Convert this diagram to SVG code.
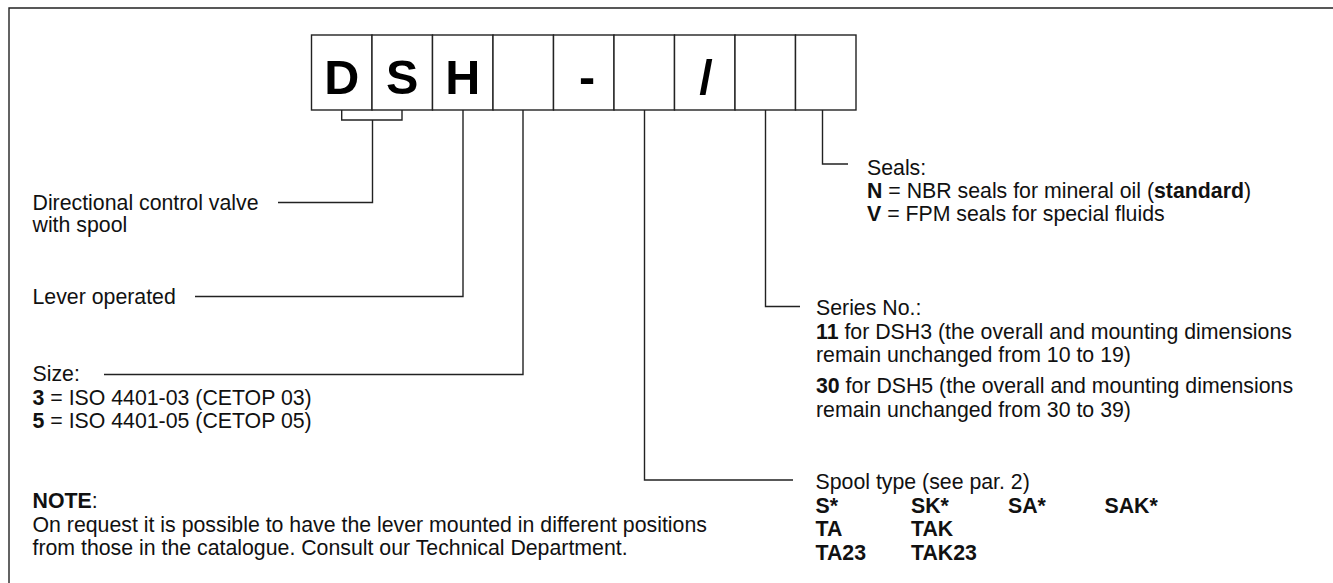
<svg xmlns="http://www.w3.org/2000/svg" width="1333" height="583" viewBox="0 0 1333 583">
<style>
.t{font-family:"Liberation Sans",Arial,sans-serif;font-size:21.3px;fill:#111}
.b{font-weight:bold}
.big{font-family:"Liberation Sans",Arial,sans-serif;font-size:48.5px;font-weight:bold;fill:#000;text-anchor:middle}
.box{fill:#fff;stroke:#222;stroke-width:1.4}
.ln{fill:none;stroke:#222;stroke-width:1.4}
</style>
<rect x="0" y="0" width="1333" height="583" fill="#fff"/>
<path class="ln" d="M9,583 V8 H1333" stroke-width="1.6"/>
<g id="code">
<rect class="box" x="311.5" y="35" width="60.5" height="75"/>
<rect class="box" x="372" y="35" width="60.5" height="75"/>
<rect class="box" x="432.5" y="35" width="60.5" height="75"/>
<rect class="box" x="493" y="35" width="60.5" height="75"/>
<rect class="box" x="553.5" y="35" width="60.5" height="75"/>
<rect class="box" x="614" y="35" width="60.5" height="75"/>
<rect class="box" x="674.5" y="35" width="60.5" height="75"/>
<rect class="box" x="735" y="35" width="60.5" height="75"/>
<rect class="box" x="795.5" y="35" width="60.5" height="75"/>
<text class="big" x="341.75" y="94">D</text>
<text class="big" x="402.25" y="94">S</text>
<text class="big" x="462.75" y="94">H</text>
<text class="big" x="587" y="94">-</text>
<text class="big" x="706" y="94">/</text>
</g>
<g id="connectors">
<path class="ln" d="M341.7,110 V120 H402 V110"/>
<path class="ln" d="M372.5,120 V202.5 H278"/>
<path class="ln" d="M463,110 V296.5 H195"/>
<path class="ln" d="M523,110 V374.5 H104"/>
<path class="ln" d="M644.5,110 V480 H793"/>
<path class="ln" d="M765.5,110 V306.5 H800"/>
<path class="ln" d="M822.5,110 V164 H848"/>
</g>
<g id="type">
<text class="t" x="32.5" y="209.5">Directional control valve</text>
<text class="t" x="32.5" y="232">with spool</text>
</g>
<g id="operation">
<text class="t" x="32.5" y="304">Lever operated</text>
</g>
<g id="size">
<text class="t" x="32.5" y="381">Size:</text>
<text class="t" x="32.5" y="404.5"><tspan class="b">3</tspan> = ISO 4401-03 (CETOP 03)</text>
<text class="t" x="32.5" y="428"><tspan class="b">5</tspan> = ISO 4401-05 (CETOP 05)</text>
</g>
<g id="note">
<text class="t" x="32.5" y="508"><tspan class="b">NOTE</tspan>:</text>
<text class="t" x="32.5" y="532">On request it is possible to have the lever mounted in different positions</text>
<text class="t" x="32.5" y="554.5">from those in the catalogue. Consult our Technical Department.</text>
</g>
<g id="seals">
<text class="t" x="867" y="174.5">Seals:</text>
<text class="t" x="867" y="197.5"><tspan class="b">N</tspan> = NBR seals for mineral oil (<tspan class="b">standard</tspan>)</text>
<text class="t" x="867" y="220.5"><tspan class="b">V</tspan> = FPM seals for special fluids</text>
</g>
<g id="series">
<text class="t" x="816" y="315">Series No.:</text>
<text class="t" x="816" y="338.5"><tspan class="b">11</tspan> for DSH3 (the overall and mounting dimensions</text>
<text class="t" x="816" y="362">remain unchanged from 10 to 19)</text>
<text class="t" x="816" y="393"><tspan class="b">30</tspan> for DSH5 (the overall and mounting dimensions</text>
<text class="t" x="816" y="416.5">remain unchanged from 30 to 39)</text>
</g>
<g id="spool">
<text class="t" x="815.5" y="489">Spool type (see par. 2)</text>
<text class="t b" x="815.5" y="512.5">S*</text>
<text class="t b" x="911" y="512.5">SK*</text>
<text class="t b" x="1008" y="512.5">SA*</text>
<text class="t b" x="1104.5" y="512.5">SAK*</text>
<text class="t b" x="815.5" y="536">TA</text>
<text class="t b" x="911" y="536">TAK</text>
<text class="t b" x="815.5" y="559.5">TA23</text>
<text class="t b" x="911" y="559.5">TAK23</text>
</g>
</svg>
